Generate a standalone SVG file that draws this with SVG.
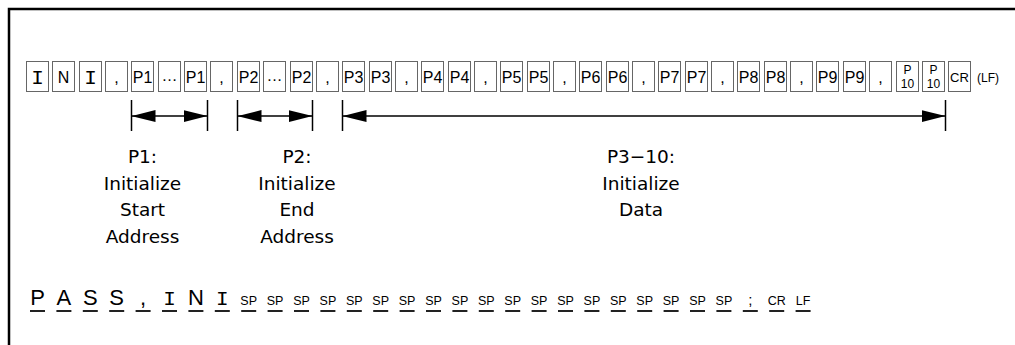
<svg xmlns="http://www.w3.org/2000/svg" width="1015" height="345" viewBox="0 0 1015 345">
<style>
.bx{fill:#fff;stroke:#666;stroke-width:1}
.t{font-family:"Liberation Sans",Arial,sans-serif;fill:#000;text-anchor:middle}
.bt{font-size:16px}
.sm{font-size:12px}
.big{font-family:"Liberation Mono","DejaVu Sans Mono",monospace;font-size:21px}
.lbl{font-family:"DejaVu Sans",sans-serif;font-size:18.5px}
.ds{stroke:#222;stroke-width:2}
.ar{stroke:#000;stroke-width:1.5;fill:none}
</style>
<defs>
<marker id="ah" markerUnits="userSpaceOnUse" markerWidth="24" markerHeight="14" refX="24" refY="7" orient="auto-start-reverse" viewBox="0 0 24 14"><path d="M0,1 L24,7 L0,13 Z" fill="#000"/></marker>
</defs>
<path d="M9,345 V9 H1015" fill="none" stroke="#000" stroke-width="2.5"/>
<g id="frame-row">
<g id="b0"><rect class="bx" x="26.5" y="61.5" width="22" height="30"/><text class="t big" x="37.5" y="84">I</text></g>
<g id="b1"><rect class="bx" x="52.5" y="61.5" width="22" height="30"/><text class="t bt" x="63.5" y="83" font-size="19">N</text></g>
<g id="b2"><rect class="bx" x="79.5" y="61.5" width="22" height="30"/><text class="t big" x="90.5" y="84">I</text></g>
<g id="b3"><rect class="bx" x="105.5" y="61.5" width="22" height="30"/><text class="t bt" x="116.5" y="83">,</text></g>
<g id="b4"><rect class="bx" x="131.5" y="61.5" width="22" height="30"/><text class="t bt" x="142.5" y="83">P1</text></g>
<g id="b5"><rect class="bx" x="158.5" y="61.5" width="22" height="30"/><text class="t bt" x="169.5" y="81">…</text></g>
<g id="b6"><rect class="bx" x="184.5" y="61.5" width="22" height="30"/><text class="t bt" x="195.5" y="83">P1</text></g>
<g id="b7"><rect class="bx" x="210.5" y="61.5" width="22" height="30"/><text class="t bt" x="221.5" y="83">,</text></g>
<g id="b8"><rect class="bx" x="237.5" y="61.5" width="22" height="30"/><text class="t bt" x="248.5" y="83">P2</text></g>
<g id="b9"><rect class="bx" x="263.5" y="61.5" width="22" height="30"/><text class="t bt" x="274.5" y="81">…</text></g>
<g id="b10"><rect class="bx" x="290.5" y="61.5" width="22" height="30"/><text class="t bt" x="301.5" y="83">P2</text></g>
<g id="b11"><rect class="bx" x="316.5" y="61.5" width="22" height="30"/><text class="t bt" x="327.5" y="83">,</text></g>
<g id="b12"><rect class="bx" x="342.5" y="61.5" width="22" height="30"/><text class="t bt" x="353.5" y="83">P3</text></g>
<g id="b13"><rect class="bx" x="369.5" y="61.5" width="22" height="30"/><text class="t bt" x="380.5" y="83">P3</text></g>
<g id="b14"><rect class="bx" x="395.5" y="61.5" width="22" height="30"/><text class="t bt" x="406.5" y="83">,</text></g>
<g id="b15"><rect class="bx" x="421.5" y="61.5" width="22" height="30"/><text class="t bt" x="432.5" y="83">P4</text></g>
<g id="b16"><rect class="bx" x="448.5" y="61.5" width="22" height="30"/><text class="t bt" x="459.5" y="83">P4</text></g>
<g id="b17"><rect class="bx" x="474.5" y="61.5" width="22" height="30"/><text class="t bt" x="485.5" y="83">,</text></g>
<g id="b18"><rect class="bx" x="500.5" y="61.5" width="22" height="30"/><text class="t bt" x="511.5" y="83">P5</text></g>
<g id="b19"><rect class="bx" x="527.5" y="61.5" width="22" height="30"/><text class="t bt" x="538.5" y="83">P5</text></g>
<g id="b20"><rect class="bx" x="553.5" y="61.5" width="22" height="30"/><text class="t bt" x="564.5" y="83">,</text></g>
<g id="b21"><rect class="bx" x="579.5" y="61.5" width="22" height="30"/><text class="t bt" x="590.5" y="83">P6</text></g>
<g id="b22"><rect class="bx" x="606.5" y="61.5" width="22" height="30"/><text class="t bt" x="617.5" y="83">P6</text></g>
<g id="b23"><rect class="bx" x="632.5" y="61.5" width="22" height="30"/><text class="t bt" x="643.5" y="83">,</text></g>
<g id="b24"><rect class="bx" x="658.5" y="61.5" width="22" height="30"/><text class="t bt" x="669.5" y="83">P7</text></g>
<g id="b25"><rect class="bx" x="685.5" y="61.5" width="22" height="30"/><text class="t bt" x="696.5" y="83">P7</text></g>
<g id="b26"><rect class="bx" x="711.5" y="61.5" width="22" height="30"/><text class="t bt" x="722.5" y="83">,</text></g>
<g id="b27"><rect class="bx" x="737.5" y="61.5" width="22" height="30"/><text class="t bt" x="748.5" y="83">P8</text></g>
<g id="b28"><rect class="bx" x="764.5" y="61.5" width="22" height="30"/><text class="t bt" x="775.5" y="83">P8</text></g>
<g id="b29"><rect class="bx" x="790.5" y="61.5" width="22" height="30"/><text class="t bt" x="801.5" y="83">,</text></g>
<g id="b30"><rect class="bx" x="816.5" y="61.5" width="22" height="30"/><text class="t bt" x="827.5" y="83">P9</text></g>
<g id="b31"><rect class="bx" x="843.5" y="61.5" width="22" height="30"/><text class="t bt" x="854.5" y="83">P9</text></g>
<g id="b32"><rect class="bx" x="869.5" y="61.5" width="22" height="30"/><text class="t bt" x="880.5" y="83">,</text></g>
<g id="b33"><rect class="bx" x="896.5" y="61.5" width="22" height="30"/><text class="t sm" x="907.5" y="74">P</text><text class="t sm" x="907.5" y="88">10</text></g>
<g id="b34"><rect class="bx" x="922.5" y="61.5" width="22" height="30"/><text class="t sm" x="933.5" y="74">P</text><text class="t sm" x="933.5" y="88">10</text></g>
<g id="b35"><rect class="bx" x="948.5" y="61.5" width="22" height="30"/><text class="t" x="959.5" y="82" font-size="13">CR</text></g>
<g id="lf"><text class="t" x="988" y="82" font-size="12">(LF)</text></g>
</g>
<g id="connectors">
<line class="ar" x1="131.5" y1="100" x2="131.5" y2="131"/>
<line class="ar" x1="207.5" y1="100" x2="207.5" y2="131"/>
<line class="ar" x1="131.5" y1="116" x2="207.5" y2="116" marker-start="url(#ah)" marker-end="url(#ah)"/>
<line class="ar" x1="237.5" y1="100" x2="237.5" y2="131"/>
<line class="ar" x1="312.5" y1="100" x2="312.5" y2="131"/>
<line class="ar" x1="237.5" y1="116" x2="312.5" y2="116" marker-start="url(#ah)" marker-end="url(#ah)"/>
<line class="ar" x1="342.5" y1="100" x2="342.5" y2="131"/>
<line class="ar" x1="945.5" y1="100" x2="945.5" y2="131"/>
<line class="ar" x1="342.5" y1="116" x2="945.5" y2="116" marker-start="url(#ah)" marker-end="url(#ah)"/>
</g>
<g id="label-p1">
<text class="t lbl" x="142.5" y="163">P1:</text>
<text class="t lbl" x="142.5" y="190">Initialize</text>
<text class="t lbl" x="142.5" y="216">Start</text>
<text class="t lbl" x="142.5" y="243">Address</text>
</g>
<g id="label-p2">
<text class="t lbl" x="297" y="163">P2:</text>
<text class="t lbl" x="297" y="190">Initialize</text>
<text class="t lbl" x="297" y="216">End</text>
<text class="t lbl" x="297" y="243">Address</text>
</g>
<g id="label-p3">
<text class="t lbl" x="641" y="163">P3−10:</text>
<text class="t lbl" x="641" y="190">Initialize</text>
<text class="t lbl" x="641" y="216">Data</text>
</g>
<g id="command">
<text class="t" x="37.5" y="305" font-size="22">P</text>
<text class="t" x="63.9" y="305" font-size="22">A</text>
<text class="t" x="90.3" y="305" font-size="22">S</text>
<text class="t" x="116.7" y="305" font-size="22">S</text>
<text class="t" x="143.1" y="305" font-size="22">,</text>
<text class="t big" x="169.5" y="305" font-size="22">I</text>
<text class="t" x="195.9" y="305" font-size="22">N</text>
<text class="t big" x="222.3" y="305" font-size="22">I</text>
<text class="t" x="248.7" y="305" font-size="12.5">SP</text>
<text class="t" x="275.1" y="305" font-size="12.5">SP</text>
<text class="t" x="301.5" y="305" font-size="12.5">SP</text>
<text class="t" x="327.9" y="305" font-size="12.5">SP</text>
<text class="t" x="354.3" y="305" font-size="12.5">SP</text>
<text class="t" x="380.7" y="305" font-size="12.5">SP</text>
<text class="t" x="407.1" y="305" font-size="12.5">SP</text>
<text class="t" x="433.5" y="305" font-size="12.5">SP</text>
<text class="t" x="459.9" y="305" font-size="12.5">SP</text>
<text class="t" x="486.3" y="305" font-size="12.5">SP</text>
<text class="t" x="512.7" y="305" font-size="12.5">SP</text>
<text class="t" x="539.1" y="305" font-size="12.5">SP</text>
<text class="t" x="565.5" y="305" font-size="12.5">SP</text>
<text class="t" x="591.9" y="305" font-size="12.5">SP</text>
<text class="t" x="618.3" y="305" font-size="12.5">SP</text>
<text class="t" x="644.7" y="305" font-size="12.5">SP</text>
<text class="t" x="671.1" y="305" font-size="12.5">SP</text>
<text class="t" x="697.5" y="305" font-size="12.5">SP</text>
<text class="t" x="723.9" y="305" font-size="12.5">SP</text>
<text class="t" x="750.3" y="305" font-size="15">;</text>
<text class="t" x="776.7" y="305" font-size="12.5">CR</text>
<text class="t" x="803.1" y="305" font-size="12.5">LF</text>
<path class="ds" d="M30,311h15M56.4,311h15M82.8,311h15M109.2,311h15M135.6,311h15M162,311h15M188.4,311h15M214.8,311h15M241.2,311h15M267.6,311h15M294,311h15M320.4,311h15M346.8,311h15M373.2,311h15M399.6,311h15M426,311h15M452.4,311h15M478.8,311h15M505.2,311h15M531.6,311h15M558,311h15M584.4,311h15M610.8,311h15M637.2,311h15M663.6,311h15M690,311h15M716.4,311h15M742.8,311h15M769.2,311h15M795.6,311h15"/>
</g>
</svg>
